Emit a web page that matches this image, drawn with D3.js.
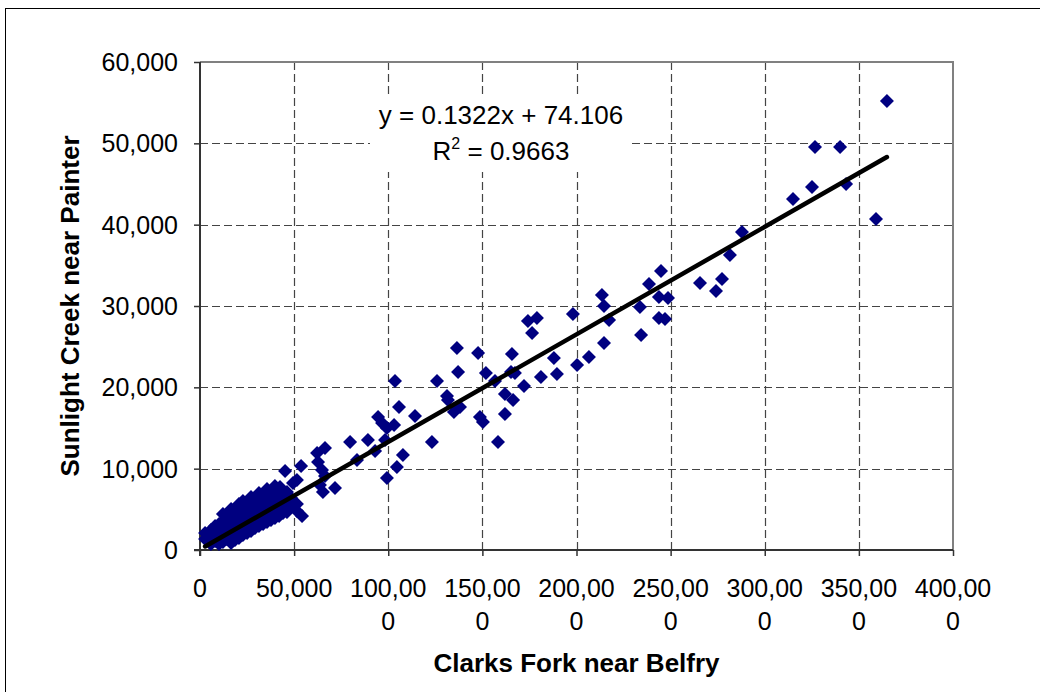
<!DOCTYPE html>
<html>
<head>
<meta charset="utf-8">
<script src="https://cdn.jsdelivr.net/npm/d3@7"></script>
<style>
  html, body { margin: 0; padding: 0; background: #fff; }
  svg { display: block; font-family: "Liberation Sans", Arial, sans-serif; }
</style>
</head>
<body>
<svg id="chart" width="1040" height="692"></svg>
<script>
// ---- Data (Clarks Fork near Belfry [x], Sunlight Creek near Painter [y]) ----
const highFlowPairs = [
  [364900, 55200], [326700, 49550], [340000, 49550], [325100, 44630], [315000, 43150],
  [343200, 45000], [359100, 40700], [287900, 39100], [281500, 36270], [244900, 34300],
  [238500, 32700], [265600, 32830], [277300, 33320], [274100, 31840], [213500, 31350],
  [214600, 30000], [243800, 31100], [248600, 30980], [233700, 29880], [198100, 29020],
  [217300, 28280], [243800, 28520], [247000, 28400], [234300, 26430], [214600, 25450],
  [206600, 23730], [200300, 22750]
];
const midFlowPairs = [
  [174200, 28160], [179000, 28520], [176400, 26680], [136500, 24840], [147700, 24220],
  [165700, 24100], [188000, 23610], [137100, 21890], [151900, 21760], [165200, 21890],
  [167300, 21760], [156700, 20780], [103600, 20780], [125900, 20780], [181100, 21270],
  [189600, 21640], [172100, 20160], [131200, 18930], [131700, 18440], [138100, 17580],
  [134900, 16970], [105700, 17580], [114200, 16480], [162000, 19180], [166300, 18440],
  [162000, 16720], [148700, 16350], [150300, 15740], [123200, 13280], [158300, 13280],
  [94600, 16350], [96700, 15610], [103100, 15370], [99300, 15000], [98300, 13520],
  [79700, 13280], [89200, 13520], [107800, 11680], [93000, 12170], [66400, 12540],
  [62200, 11930], [83400, 11070], [104600, 10200], [99300, 8850], [45200, 9710],
  [53700, 10330], [62700, 10820], [64800, 9840], [66400, 9100], [51500, 8600],
  [49400, 8240], [42500, 7750], [38800, 7380], [71700, 7620], [65300, 7130], [63700, 7990]
];
const lowFlowPairs = [
  [2700, 2090], [2700, 1352], [4800, 1721], [4800, 984],
  [5800, 2459], [5800, 1475], [5800, 738],
  [8000, 2951], [8000, 2090], [8000, 1107],
  [10100, 3197], [10100, 2336], [10100, 1475], [10100, 738],
  [12200, 4426], [12200, 3566], [12200, 2705], [12200, 1844], [12200, 984],
  [14300, 3934], [14300, 3074], [14300, 2213], [14300, 1352],
  [16500, 5041], [16500, 4180], [16500, 3320], [16500, 2459], [16500, 1598], [16500, 861],
  [18600, 4549], [18600, 3689], [18600, 2828], [18600, 1967], [18600, 1230],
  [20700, 5656], [20700, 4795], [20700, 3934], [20700, 3074], [20700, 2213], [20700, 1475],
  [22800, 6025], [22800, 5164], [22800, 4303], [22800, 3443], [22800, 2582], [22800, 1844],
  [25000, 5533], [25000, 4672], [25000, 3811], [25000, 2951], [25000, 2090],
  [27100, 6516], [27100, 5779], [27100, 4918], [27100, 4057], [27100, 3197], [27100, 2336],
  [29200, 6148], [29200, 5287], [29200, 4426], [29200, 3566], [29200, 2705],
  [31300, 7008], [31300, 6270], [31300, 5410], [31300, 4549], [31300, 3689], [31300, 2951],
  [33500, 6639], [33500, 5779], [33500, 4918], [33500, 4057], [33500, 3197],
  [35600, 7500], [35600, 6762], [35600, 5902], [35600, 5041], [35600, 4180], [35600, 3443],
  [37700, 7008], [37700, 6148], [37700, 5287], [37700, 4426], [37700, 3689],
  [39800, 7869], [39800, 6516], [39800, 5533], [39800, 4672], [39800, 3934],
  [42000, 7377], [42000, 5902], [42000, 4918], [42000, 4180],
  [44100, 6639], [44100, 5410], [44100, 4549],
  [46200, 7131], [46200, 5902], [46200, 4672],
  [48300, 6393], [48300, 5287],
  [51500, 5656], [51500, 4795], [54200, 4180]
];
const trendSlope = 0.1322;
const trendIntercept = 74.106;
const trendEquation = "y = 0.1322x + 74.106";
const rSquaredValue = "0.9663";

const xTickValues = [0, 50000, 100000, 150000, 200000, 250000, 300000, 350000, 400000];
const xTickLabels = [["0"], ["50,000"], ["100,00", "0"], ["150,00", "0"], ["200,00", "0"],
                     ["250,00", "0"], ["300,00", "0"], ["350,00", "0"], ["400,00", "0"]];
const yTickValues = [0, 10000, 20000, 30000, 40000, 50000, 60000];
const yTickLabels = ["0", "10,000", "20,000", "30,000", "40,000", "50,000", "60,000"];
const xTitle = "Clarks Fork near Belfry";
const yTitle = "Sunlight Creek near Painter";

// ---- Layout ----
const svg = d3.select("#chart");
const plot = { left: 200, right: 953, top: 62, bottom: 550 };
const x = d3.scaleLinear().domain([0, 400000]).range([plot.left, plot.right]);
const y = d3.scaleLinear().domain([0, 60000]).range([plot.bottom, plot.top]);

// outer chart frame
svg.append("rect").attr("x", 5.5).attr("y", 8.5).attr("width", 1060).attr("height", 720)
  .attr("fill", "none").attr("stroke", "#000").attr("stroke-width", 1);

// gridlines
const grid = svg.append("g");
grid.selectAll("line.h").data(yTickValues.filter(v => v > 0 && v < 60000)).join("line")
  .attr("x1", plot.left).attr("x2", plot.right)
  .attr("y1", d => Math.round(y(d)) + 0.5).attr("y2", d => Math.round(y(d)) + 0.5)
  .attr("stroke", "#444").attr("stroke-width", 1.2).attr("stroke-dasharray", "8,4");
grid.selectAll("line.v").data(xTickValues.filter(v => v > 0 && v < 400000)).join("line")
  .attr("y1", plot.top).attr("y2", plot.bottom)
  .attr("x1", d => Math.round(x(d)) + 0.5).attr("x2", d => Math.round(x(d)) + 0.5)
  .attr("stroke", "#444").attr("stroke-width", 1.2).attr("stroke-dasharray", "8,4");

// plot area border (top & right, gray)
svg.append("path")
  .attr("d", `M${plot.left},${plot.top}H${plot.right}V${plot.bottom}`)
  .attr("fill", "none").attr("stroke", "#808080").attr("stroke-width", 2);

// axes
const xAxis = d3.axisBottom(x).tickValues(xTickValues).tickSize(6).tickFormat("");
const yAxis = d3.axisLeft(y).tickValues(yTickValues).tickSize(6).tickFormat("");
const gx = svg.append("g").attr("transform", `translate(0,${plot.bottom})`).call(xAxis);
const gy = svg.append("g").attr("transform", `translate(${plot.left},0)`).call(yAxis);
[gx, gy].forEach(g => {
  g.select(".domain").attr("stroke", "#333").attr("stroke-width", 2);
  g.selectAll(".tick line").attr("stroke", "#333").attr("stroke-width", 1.5);
});
gy.select(".domain").attr("d", `M0,${plot.top}V${plot.bottom + 6}`);
gx.select(".domain").attr("d", `M${plot.left - 6},0H${plot.right}`);

// tick labels
const fs = 25;
svg.append("g").selectAll("text").data(yTickValues).join("text")
  .attr("x", 178).attr("y", d => y(d) + 9)
  .attr("text-anchor", "end").attr("font-size", fs).attr("fill", "#000")
  .text((d, i) => yTickLabels[i]);
const xl = svg.append("g").selectAll("g").data(xTickValues).join("g")
  .attr("transform", d => `translate(${x(d)},0)`);
xl.selectAll("text").data((d, i) => xTickLabels[i]).join("text")
  .attr("x", 0).attr("y", (d, j) => 597 + j * 33)
  .attr("text-anchor", "middle").attr("font-size", fs).attr("fill", "#000")
  .text(d => d);

// axis titles
svg.append("text").attr("x", (plot.left + plot.right) / 2).attr("y", 672)
  .attr("text-anchor", "middle").attr("font-size", 26).attr("font-weight", "bold")
  .text(xTitle);
svg.append("text").attr("transform", `translate(79,${(plot.top + plot.bottom) / 2}) rotate(-90)`)
  .attr("text-anchor", "middle").attr("font-size", 26).attr("font-weight", "bold")
  .text(yTitle);

// points
const allPairs = [...highFlowPairs, ...midFlowPairs, ...lowFlowPairs];
const diamond = "M0,-7L7,0L0,7L-7,0Z";
svg.append("g").selectAll("path").data(allPairs).join("path")
  .attr("d", diamond)
  .attr("transform", d => `translate(${x(d[0])},${y(d[1])})`)
  .attr("fill", "#000080");

// trendline
const xExt = d3.extent(allPairs, d => d[0]);
svg.append("line")
  .attr("x1", x(xExt[0])).attr("y1", y(trendSlope * xExt[0] + trendIntercept))
  .attr("x2", x(xExt[1])).attr("y2", y(trendSlope * xExt[1] + trendIntercept))
  .attr("stroke", "#000").attr("stroke-width", 4.5).attr("stroke-linecap", "round");

// equation label (white background box like the original)
const eqX = 501;
svg.append("rect").attr("x", 370).attr("y", 96).attr("width", 262).attr("height", 76)
  .attr("fill", "#fff");
svg.append("text").attr("x", eqX).attr("y", 124).attr("text-anchor", "middle")
  .attr("font-size", 26).text(trendEquation);
const r2 = svg.append("text").attr("x", eqX).attr("y", 160).attr("text-anchor", "middle")
  .attr("font-size", 26);
r2.append("tspan").text("R");
r2.append("tspan").attr("font-size", 16).attr("dy", -11).text("2");
r2.append("tspan").attr("dy", 11).text(" = " + rSquaredValue);
</script>
</body>
</html>
